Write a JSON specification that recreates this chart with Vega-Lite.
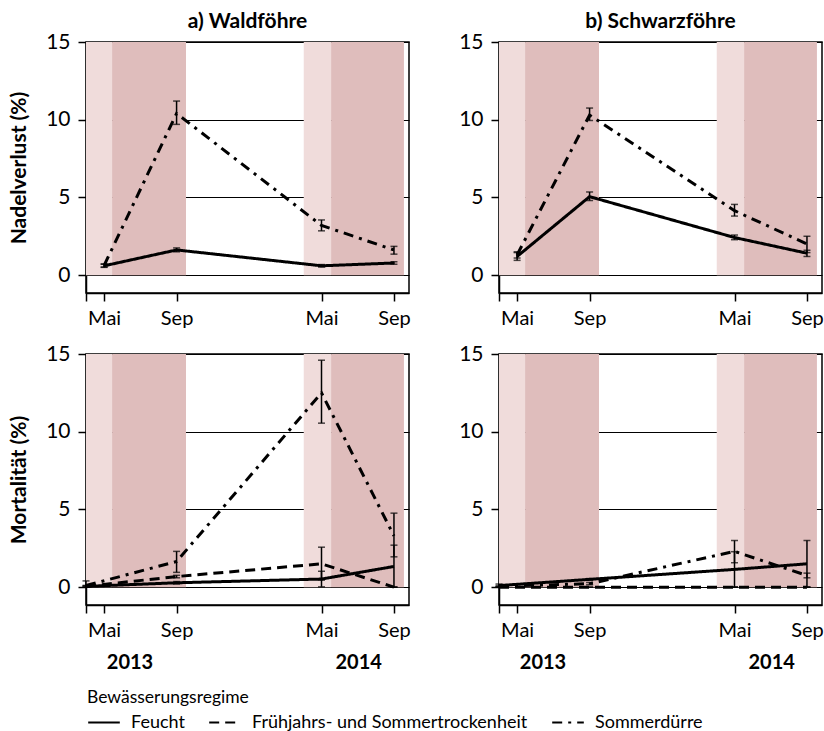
{
  "$schema": "https://vega.github.io/schema/vega-lite/v6.json",
  "background": "white",
  "padding": {"left": 7, "top": 10, "right": 0, "bottom": 0},
  "datasets": {
    "seasons": [
      {"start": 3, "end": 4.44, "season": "Frühjahr"},
      {"start": 4.44, "end": 8.52, "season": "Sommer"},
      {"start": 15.02, "end": 16.53, "season": "Frühjahr"},
      {"start": 16.53, "end": 20.55, "season": "Sommer"}
    ],
    "years": [
      {"year": "2013", "t": 5.43},
      {"year": "2014", "t": 18.05}
    ],
    "obs": [
      {"species": "Waldföhre", "measure": "Nadelverlust", "regime": "Feucht", "t": 4, "v": 0.6, "lo": 0.5, "hi": 0.7},
      {"species": "Waldföhre", "measure": "Nadelverlust", "regime": "Feucht", "t": 8, "v": 1.62, "lo": 1.5, "hi": 1.75},
      {"species": "Waldföhre", "measure": "Nadelverlust", "regime": "Feucht", "t": 16, "v": 0.6, "lo": 0.52, "hi": 0.68},
      {"species": "Waldföhre", "measure": "Nadelverlust", "regime": "Feucht", "t": 20, "v": 0.78, "lo": 0.7, "hi": 0.86},
      {"species": "Waldföhre", "measure": "Nadelverlust", "regime": "Sommerdürre", "t": 4, "v": 0.62, "lo": 0.52, "hi": 0.72},
      {"species": "Waldföhre", "measure": "Nadelverlust", "regime": "Sommerdürre", "t": 8, "v": 10.4, "lo": 9.7, "hi": 11.2},
      {"species": "Waldföhre", "measure": "Nadelverlust", "regime": "Sommerdürre", "t": 16, "v": 3.2, "lo": 2.85, "hi": 3.55},
      {"species": "Waldföhre", "measure": "Nadelverlust", "regime": "Sommerdürre", "t": 20, "v": 1.62, "lo": 1.35, "hi": 1.85},
      {"species": "Schwarzföhre", "measure": "Nadelverlust", "regime": "Feucht", "t": 4, "v": 1.2, "lo": 0.95, "hi": 1.45},
      {"species": "Schwarzföhre", "measure": "Nadelverlust", "regime": "Feucht", "t": 8, "v": 5.05, "lo": 4.8, "hi": 5.35},
      {"species": "Schwarzföhre", "measure": "Nadelverlust", "regime": "Feucht", "t": 16, "v": 2.42, "lo": 2.28, "hi": 2.58},
      {"species": "Schwarzföhre", "measure": "Nadelverlust", "regime": "Feucht", "t": 20, "v": 1.41, "lo": 1.2, "hi": 1.6},
      {"species": "Schwarzföhre", "measure": "Nadelverlust", "regime": "Sommerdürre", "t": 4, "v": 1.3, "lo": 1.1, "hi": 1.5},
      {"species": "Schwarzföhre", "measure": "Nadelverlust", "regime": "Sommerdürre", "t": 8, "v": 10.3, "lo": 9.95, "hi": 10.75},
      {"species": "Schwarzföhre", "measure": "Nadelverlust", "regime": "Sommerdürre", "t": 16, "v": 4.15, "lo": 3.8, "hi": 4.55},
      {"species": "Schwarzföhre", "measure": "Nadelverlust", "regime": "Sommerdürre", "t": 20, "v": 2.0, "lo": 1.45, "hi": 2.5},
      {"species": "Waldföhre", "measure": "Mortalität", "regime": "Feucht", "t": 3, "v": 0.05, "lo": 0, "hi": 0.1},
      {"species": "Waldföhre", "measure": "Mortalität", "regime": "Feucht", "t": 8, "v": 0.28, "lo": 0.2, "hi": 0.36},
      {"species": "Waldföhre", "measure": "Mortalität", "regime": "Feucht", "t": 16, "v": 0.52, "lo": 0.02, "hi": 1.02},
      {"species": "Waldföhre", "measure": "Mortalität", "regime": "Feucht", "t": 20, "v": 1.33, "lo": 0, "hi": 2.7},
      {"species": "Waldföhre", "measure": "Mortalität", "regime": "Frühjahrs- und Sommertrockenheit", "t": 3, "v": 0.05, "lo": 0, "hi": 0.1},
      {"species": "Waldföhre", "measure": "Mortalität", "regime": "Frühjahrs- und Sommertrockenheit", "t": 8, "v": 0.68, "lo": 0.6, "hi": 0.76},
      {"species": "Waldföhre", "measure": "Mortalität", "regime": "Frühjahrs- und Sommertrockenheit", "t": 16, "v": 1.5, "lo": 0.45, "hi": 2.57},
      {"species": "Waldföhre", "measure": "Mortalität", "regime": "Frühjahrs- und Sommertrockenheit", "t": 20, "v": 0, "lo": 0, "hi": 0},
      {"species": "Waldföhre", "measure": "Mortalität", "regime": "Sommerdürre", "t": 3, "v": 0.1, "lo": 0, "hi": 0.4},
      {"species": "Waldföhre", "measure": "Mortalität", "regime": "Sommerdürre", "t": 8, "v": 1.65, "lo": 0.95, "hi": 2.3},
      {"species": "Waldföhre", "measure": "Mortalität", "regime": "Sommerdürre", "t": 16, "v": 12.5, "lo": 10.55, "hi": 14.6},
      {"species": "Waldföhre", "measure": "Mortalität", "regime": "Sommerdürre", "t": 20, "v": 3.3, "lo": 1.95, "hi": 4.76},
      {"species": "Schwarzföhre", "measure": "Mortalität", "regime": "Feucht", "t": 3, "v": 0.1, "lo": 0, "hi": 0.2},
      {"species": "Schwarzföhre", "measure": "Mortalität", "regime": "Feucht", "t": 8, "v": 0.5, "lo": 0.45, "hi": 0.55},
      {"species": "Schwarzföhre", "measure": "Mortalität", "regime": "Feucht", "t": 16, "v": 1.14, "lo": 0, "hi": 2.28},
      {"species": "Schwarzföhre", "measure": "Mortalität", "regime": "Feucht", "t": 20, "v": 1.5, "lo": 0, "hi": 3.0},
      {"species": "Schwarzföhre", "measure": "Mortalität", "regime": "Frühjahrs- und Sommertrockenheit", "t": 3, "v": 0, "lo": 0, "hi": 0},
      {"species": "Schwarzföhre", "measure": "Mortalität", "regime": "Frühjahrs- und Sommertrockenheit", "t": 8, "v": 0, "lo": 0, "hi": 0},
      {"species": "Schwarzföhre", "measure": "Mortalität", "regime": "Frühjahrs- und Sommertrockenheit", "t": 16, "v": 0, "lo": 0, "hi": 0},
      {"species": "Schwarzföhre", "measure": "Mortalität", "regime": "Frühjahrs- und Sommertrockenheit", "t": 20, "v": 0, "lo": 0, "hi": 0},
      {"species": "Schwarzföhre", "measure": "Mortalität", "regime": "Sommerdürre", "t": 3, "v": 0.05, "lo": 0, "hi": 0.1},
      {"species": "Schwarzföhre", "measure": "Mortalität", "regime": "Sommerdürre", "t": 8, "v": 0.22, "lo": 0.15, "hi": 0.3},
      {"species": "Schwarzföhre", "measure": "Mortalität", "regime": "Sommerdürre", "t": 16, "v": 2.3, "lo": 1.57, "hi": 3.0},
      {"species": "Schwarzföhre", "measure": "Mortalität", "regime": "Sommerdürre", "t": 20, "v": 0.75, "lo": 0.6, "hi": 0.9}
    ]
  },
  "config": {
    "font": "Lato",
    "view": {"stroke": "black", "strokeWidth": 1.5},
    "title": {"fontSize": 21, "fontWeight": "bold", "color": "black", "offset": -1, "anchor": "middle"},
    "axis": {
      "domainColor": "black", "domainWidth": 1.5,
      "tickColor": "black", "tickWidth": 1.5, "tickSize": 8,
      "labelFontSize": 21, "labelColor": "black",
      "titleFontSize": 21, "titleFontWeight": "bold", "titleColor": "black",
      "gridColor": "black", "gridWidth": 1, "gridOpacity": 1,
      "labelOverlap": false, "labelFlush": false, "zindex": 1
    },
    "axisY": {"grid": true, "labelPadding": 8, "titlePadding": 16},
    "axisX": {"grid": false, "labelPadding": 7, "labelFontSize": 20},
    "legend": {
      "titleFontSize": 17.5, "titleFontWeight": "normal", "titleColor": "black",
      "labelFontSize": 18, "labelColor": "black", "labelLimit": 500,
      "symbolType": "stroke", "symbolStrokeWidth": 2, "symbolSize": 1000,
      "symbolStrokeColor": "black", "columnPadding": 20, "labelOffset": 10,
      "titlePadding": -1, "padding": 0
    }
  },
  "columns": 2,
  "spacing": {"row": 61, "column": 90},
  "bounds": "flush",
  "concat": [
    {
      "width": 323, "height": 251,
      "title": {"text": "a) Waldföhre"},
      "layer": [
        {
          "data": {"name": "seasons"},
          "mark": {"type": "rect"},
          "encoding": {
            "x": {"field": "start", "type": "quantitative", "scale": {"domain": [3, 20.83], "nice": false, "zero": false}, "axis": {"title": null, "values": [3, 4, 8, 16, 20], "labelExpr": "datum.value == 4 || datum.value == 16 ? 'Mai' : (datum.value == 8 || datum.value == 20 ? 'Sep' : '')"}},
            "x2": {"field": "end"},
            "y": {"datum": 0, "type": "quantitative", "scale": {"domain": [-1.15, 15], "nice": false, "zero": false}, "axis": {"title": "Nadelverlust (%)", "values": [0, 5, 10, 15]}},
            "y2": {"datum": 15},
            "color": {"field": "season", "type": "nominal", "scale": {"domain": ["Frühjahr", "Sommer"], "range": ["#f0dcdb", "#dfbdbc"]}, "legend": null}
          }
        },
        {
          "data": {"name": "obs"},
          "transform": [{"filter": "datum.species == 'Waldföhre' && datum.measure == 'Nadelverlust'"}],
          "mark": {"type": "line", "color": "black", "strokeWidth": 3},
          "encoding": {
            "x": {"field": "t", "type": "quantitative"},
            "y": {"field": "v", "type": "quantitative", "title": "Nadelverlust (%)"},
            "strokeDash": {"field": "regime", "type": "nominal", "scale": {"domain": ["Feucht", "Frühjahrs- und Sommertrockenheit", "Sommerdürre"], "range": [[1, 0], [10, 6], [10, 6, 3, 6]]}, "legend": {"title": "Bewässerungsregime", "orient": "none", "direction": "horizontal", "legendX": 1, "legendY": 647}}
          }
        },
        {
          "data": {"name": "obs"},
          "transform": [{"filter": "datum.species == 'Waldföhre' && datum.measure == 'Nadelverlust'"}],
          "mark": {"type": "errorbar", "ticks": {"size": 7, "thickness": 1.5, "color": "black"}, "rule": {"strokeWidth": 1.5, "color": "black"}},
          "encoding": {
            "x": {"field": "t", "type": "quantitative"},
            "y": {"field": "lo", "type": "quantitative", "title": "Nadelverlust (%)"},
            "y2": {"field": "hi"}
          }
        }
      ]
    },
    {
      "width": 323, "height": 251,
      "title": {"text": "b) Schwarzföhre"},
      "layer": [
        {
          "data": {"name": "seasons"},
          "mark": {"type": "rect"},
          "encoding": {
            "x": {"field": "start", "type": "quantitative", "scale": {"domain": [3, 20.83], "nice": false, "zero": false}, "axis": {"title": null, "values": [3, 4, 8, 16, 20], "labelExpr": "datum.value == 4 || datum.value == 16 ? 'Mai' : (datum.value == 8 || datum.value == 20 ? 'Sep' : '')"}},
            "x2": {"field": "end"},
            "y": {"datum": 0, "type": "quantitative", "scale": {"domain": [-1.15, 15], "nice": false, "zero": false}, "axis": {"title": null, "values": [0, 5, 10, 15]}},
            "y2": {"datum": 15},
            "color": {"field": "season", "type": "nominal", "scale": {"domain": ["Frühjahr", "Sommer"], "range": ["#f0dcdb", "#dfbdbc"]}, "legend": null}
          }
        },
        {
          "data": {"name": "obs"},
          "transform": [{"filter": "datum.species == 'Schwarzföhre' && datum.measure == 'Nadelverlust'"}],
          "mark": {"type": "line", "color": "black", "strokeWidth": 3},
          "encoding": {
            "x": {"field": "t", "type": "quantitative"},
            "y": {"field": "v", "type": "quantitative"},
            "strokeDash": {"field": "regime", "type": "nominal"}
          }
        },
        {
          "data": {"name": "obs"},
          "transform": [{"filter": "datum.species == 'Schwarzföhre' && datum.measure == 'Nadelverlust'"}],
          "mark": {"type": "errorbar", "ticks": {"size": 7, "thickness": 1.5, "color": "black"}, "rule": {"strokeWidth": 1.5, "color": "black"}},
          "encoding": {
            "x": {"field": "t", "type": "quantitative"},
            "y": {"field": "lo", "type": "quantitative"},
            "y2": {"field": "hi"}
          }
        }
      ]
    },
    {
      "width": 323, "height": 251,
      "layer": [
        {
          "data": {"name": "seasons"},
          "mark": {"type": "rect"},
          "encoding": {
            "x": {"field": "start", "type": "quantitative", "scale": {"domain": [3, 20.83], "nice": false, "zero": false}, "axis": {"title": null, "values": [3, 4, 8, 16, 20], "labelExpr": "datum.value == 4 || datum.value == 16 ? 'Mai' : (datum.value == 8 || datum.value == 20 ? 'Sep' : '')"}},
            "x2": {"field": "end"},
            "y": {"datum": 0, "type": "quantitative", "scale": {"domain": [-1.15, 15], "nice": false, "zero": false}, "axis": {"title": "Mortalität (%)", "values": [0, 5, 10, 15]}},
            "y2": {"datum": 15},
            "color": {"field": "season", "type": "nominal", "scale": {"domain": ["Frühjahr", "Sommer"], "range": ["#f0dcdb", "#dfbdbc"]}, "legend": null}
          }
        },
        {
          "data": {"name": "obs"},
          "transform": [{"filter": "datum.species == 'Waldföhre' && datum.measure == 'Mortalität'"}],
          "mark": {"type": "line", "color": "black", "strokeWidth": 3},
          "encoding": {
            "x": {"field": "t", "type": "quantitative"},
            "y": {"field": "v", "type": "quantitative", "title": "Mortalität (%)"},
            "strokeDash": {"field": "regime", "type": "nominal"}
          }
        },
        {
          "data": {"name": "obs"},
          "transform": [{"filter": "datum.species == 'Waldföhre' && datum.measure == 'Mortalität'"}],
          "mark": {"type": "errorbar", "ticks": {"size": 7, "thickness": 1.5, "color": "black"}, "rule": {"strokeWidth": 1.5, "color": "black"}},
          "encoding": {
            "x": {"field": "t", "type": "quantitative"},
            "y": {"field": "lo", "type": "quantitative", "title": "Mortalität (%)"},
            "y2": {"field": "hi"}
          }
        },
        {
          "data": {"name": "years"},
          "mark": {"type": "text", "fontSize": 20, "fontWeight": "bold", "color": "black", "baseline": "middle"},
          "encoding": {
            "x": {"field": "t", "type": "quantitative"},
            "y": {"datum": -4.9, "type": "quantitative"},
            "text": {"field": "year"}
          }
        }
      ]
    },
    {
      "width": 323, "height": 251,
      "layer": [
        {
          "data": {"name": "seasons"},
          "mark": {"type": "rect"},
          "encoding": {
            "x": {"field": "start", "type": "quantitative", "scale": {"domain": [3, 20.83], "nice": false, "zero": false}, "axis": {"title": null, "values": [3, 4, 8, 16, 20], "labelExpr": "datum.value == 4 || datum.value == 16 ? 'Mai' : (datum.value == 8 || datum.value == 20 ? 'Sep' : '')"}},
            "x2": {"field": "end"},
            "y": {"datum": 0, "type": "quantitative", "scale": {"domain": [-1.15, 15], "nice": false, "zero": false}, "axis": {"title": null, "values": [0, 5, 10, 15]}},
            "y2": {"datum": 15},
            "color": {"field": "season", "type": "nominal", "scale": {"domain": ["Frühjahr", "Sommer"], "range": ["#f0dcdb", "#dfbdbc"]}, "legend": null}
          }
        },
        {
          "data": {"name": "obs"},
          "transform": [{"filter": "datum.species == 'Schwarzföhre' && datum.measure == 'Mortalität'"}],
          "mark": {"type": "line", "color": "black", "strokeWidth": 3},
          "encoding": {
            "x": {"field": "t", "type": "quantitative"},
            "y": {"field": "v", "type": "quantitative"},
            "strokeDash": {"field": "regime", "type": "nominal"}
          }
        },
        {
          "data": {"name": "obs"},
          "transform": [{"filter": "datum.species == 'Schwarzföhre' && datum.measure == 'Mortalität'"}],
          "mark": {"type": "errorbar", "ticks": {"size": 7, "thickness": 1.5, "color": "black"}, "rule": {"strokeWidth": 1.5, "color": "black"}},
          "encoding": {
            "x": {"field": "t", "type": "quantitative"},
            "y": {"field": "lo", "type": "quantitative"},
            "y2": {"field": "hi"}
          }
        },
        {
          "data": {"name": "years"},
          "mark": {"type": "text", "fontSize": 20, "fontWeight": "bold", "color": "black", "baseline": "middle"},
          "encoding": {
            "x": {"field": "t", "type": "quantitative"},
            "y": {"datum": -4.9, "type": "quantitative"},
            "text": {"field": "year"}
          }
        }
      ]
    }
  ]
}
